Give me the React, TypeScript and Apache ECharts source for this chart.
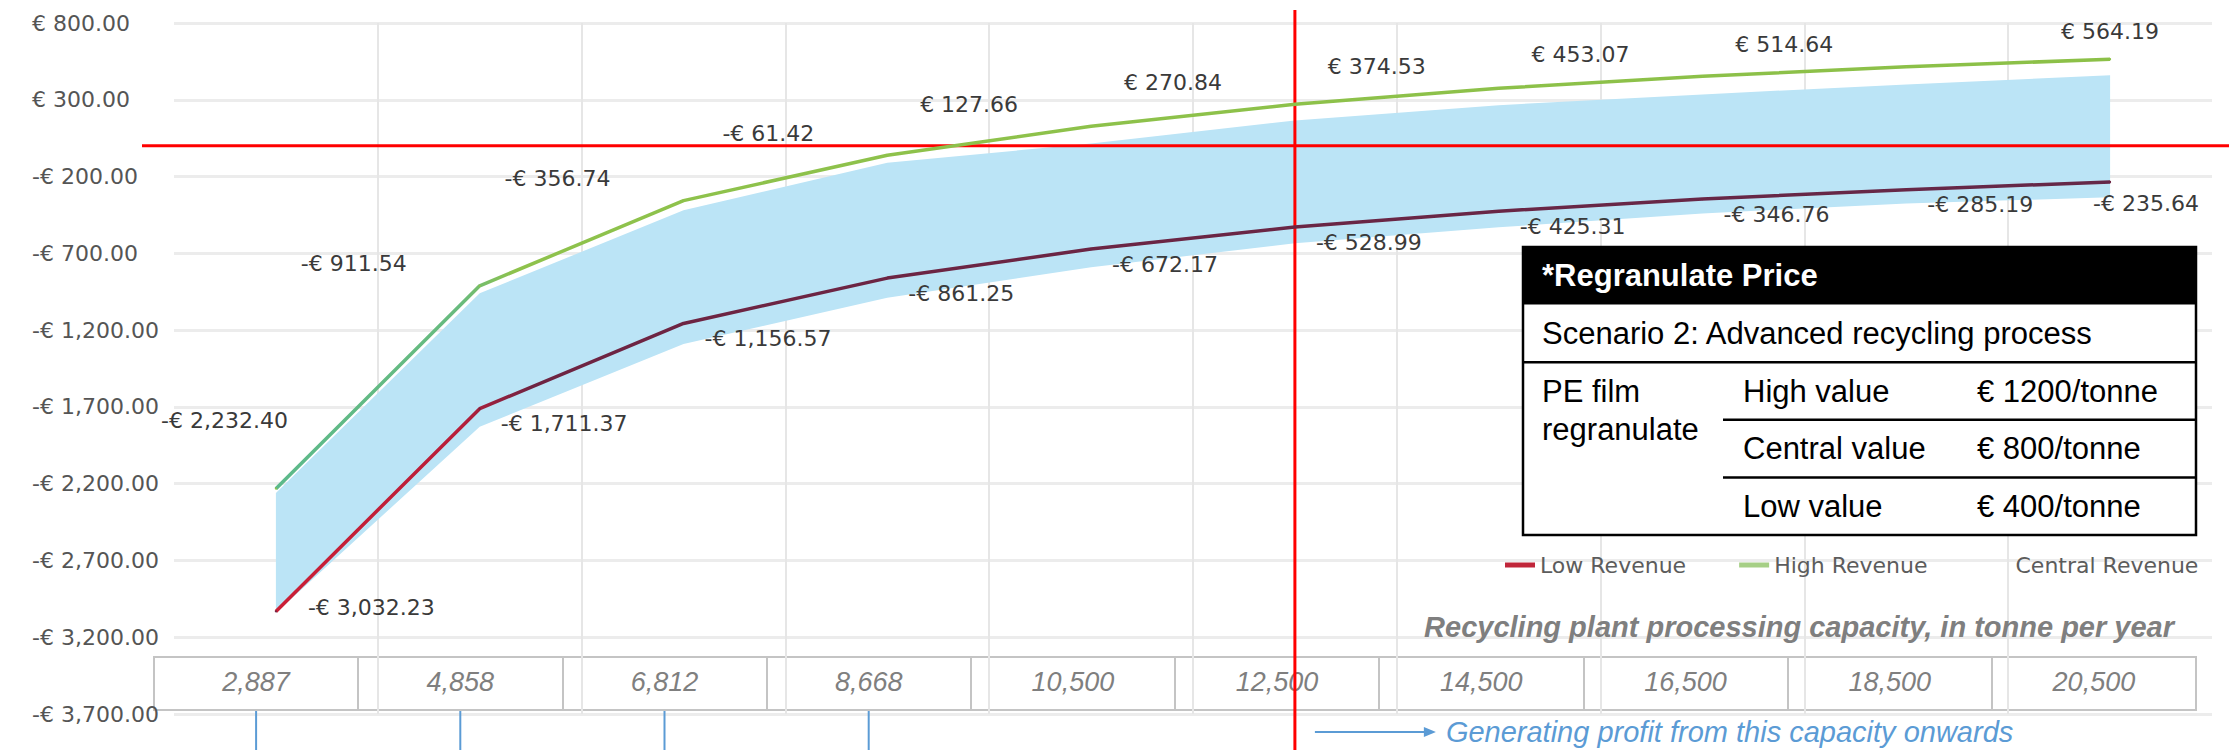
import React, { useEffect, useRef } from "react";
import * as echarts from "echarts";

// Recycling plant capacity (tonne per year)
const categories = ["2,887", "4,858", "6,812", "8,668", "10,500", "12,500", "14,500", "16,500", "18,500", "20,500"];

// Annual result per scenario (€)
const highRevenue = [-2232.4, -911.54, -356.74, -61.42, 127.66, 270.84, 374.53, 453.07, 514.64, 564.19];
const lowRevenue = [-3032.23, -1711.37, -1156.57, -861.25, -672.17, -528.99, -425.31, -346.76, -285.19, -235.64];

// Central revenue range (shaded band)
const centralUpper = [-2260, -960, -420, -110, 15, 165, 265, 335, 400, 460];
const centralLower = [-3040, -1830, -1290, -990, -790, -635, -530, -440, -375, -335];

// Value axis
const yMin = -3700;
const yMax = 800;
const yStep = 500;

// Annotations
const profitCapacity = "12,500";
const markedCapacities = ["2,887", "4,858", "6,812", "8,668"];
const priceProduct = ["PE film", "regranulate"];
const priceTiers = ["High value", "Central value", "Low value"];
const pricePerTonne = [1200, 800, 400];

const SANS = "'Liberation Sans', Arial, sans-serif";
const CHART_FONT = "'DejaVu Sans', Verdana, sans-serif";

function euro(v: number): string {
  const s = Math.abs(v).toLocaleString("en-US", { minimumFractionDigits: 2, maximumFractionDigits: 2 });
  return (v < 0 ? "-€ " : "€ ") + s;
}

function text(x: number, y: number, t: string, opts: any = {}) {
  const align = opts.align || "left";
  return {
    type: "text",
    z: opts.z ?? 30,
    style: {
      text: t,
      x,
      y,
      fill: opts.fill || "#000",
      fontSize: opts.fontSize || 31,
      fontFamily: opts.fontFamily || SANS,
      fontStyle: opts.fontStyle || "normal",
      fontWeight: opts.fontWeight || "normal",
      align,
      verticalAlign: "middle",
      textAlign: align,
      textVerticalAlign: "middle",
    },
  };
}

function line(x1: number, y1: number, x2: number, y2: number, stroke: string, lineWidth: number, z = 30) {
  return { type: "line", z, shape: { x1, y1, x2, y2 }, style: { stroke, lineWidth } };
}

export default function App() {
  const ref = useRef<HTMLDivElement>(null);

  useEffect(() => {
    if (!ref.current) return;
    const chart = echarts.init(ref.current, null, { renderer: "svg" });

    const highData = highRevenue.map((v, i) => {
      if (i === 0) return { value: v, label: { position: "left", distance: 0, offset: [13, -68] } };
      if (i === highRevenue.length - 1) return { value: v, label: { position: "top", distance: 16, offset: [0, 0] } };
      return v;
    });
    const lowData = lowRevenue.map((v, i) => {
      if (i === 0) return { value: v, label: { offset: [11, -4] } };
      if (i === lowRevenue.length - 1) return { value: v, label: { offset: [-38, 21] } };
      return v;
    });

    const labelStyle = {
      show: true,
      formatter: (p: any) => euro(p.value),
      fontFamily: CHART_FONT,
      fontSize: 22,
      color: "#3a3a3a",
    };

    chart.setOption({
      animation: false,
      textStyle: { fontFamily: CHART_FONT },
      grid: [
        { left: 174, right: 17, top: 23, bottom: 36 },
        {
          left: 154,
          right: 33,
          top: 657,
          bottom: 40,
          show: true,
          borderColor: "#c4c4c4",
          borderWidth: 2,
          backgroundColor: "transparent",
        },
      ],
      xAxis: [
        {
          gridIndex: 0,
          type: "category",
          data: categories,
          boundaryGap: true,
          axisLine: { show: false },
          axisTick: { show: false },
          axisLabel: { show: false },
          splitLine: { show: true, showMinLine: false, showMaxLine: false, lineStyle: { color: "#e6e6e6", width: 2 } },
        },
        {
          gridIndex: 1,
          type: "category",
          data: categories,
          boundaryGap: true,
          axisLine: { show: false },
          axisTick: { show: true, inside: true, length: 53, lineStyle: { color: "#c4c4c4", width: 2 } },
          axisLabel: {
            show: true,
            inside: true,
            margin: 28,
            verticalAlign: "middle",
            fontFamily: SANS,
            fontStyle: "italic",
            fontSize: 27,
            color: "#7f7f7f",
          },
          splitLine: { show: false },
        },
      ],
      yAxis: [
        {
          gridIndex: 0,
          type: "value",
          min: yMin,
          max: yMax,
          interval: yStep,
          axisLine: { show: false },
          axisTick: { show: false },
          axisLabel: {
            formatter: (v: number) => euro(v),
            align: "left",
            margin: 142,
            fontFamily: CHART_FONT,
            fontSize: 22,
            color: "#555555",
          },
          splitLine: { show: true, lineStyle: { color: "#ececec", width: 3 } },
        },
        { gridIndex: 1, type: "value", show: false },
      ],
      legend: {
        left: 1500,
        top: 549,
        icon: "rect",
        itemWidth: 30,
        itemHeight: 5,
        itemGap: 53,
        textStyle: { fontFamily: CHART_FONT, fontSize: 22, color: "#5c5c5c" },
        data: [
          { name: "Low Revenue", itemStyle: { color: "#c0263a" } },
          { name: "High Revenue", itemStyle: { color: "#a6cf86" } },
          { name: "Central Revenue", itemStyle: { color: "rgba(255,255,255,0)" } },
        ],
      },
      series: [
        {
          name: "Central base",
          type: "line",
          data: centralLower,
          stack: "central",
          stackStrategy: "all",
          symbol: "none",
          silent: true,
          lineStyle: { opacity: 0 },
          z: 1,
        },
        {
          name: "Central Revenue",
          type: "line",
          data: centralUpper.map((u, i) => u - centralLower[i]),
          stack: "central",
          stackStrategy: "all",
          symbol: "none",
          silent: true,
          lineStyle: { opacity: 0 },
          itemStyle: { color: "#bbe4f6" },
          areaStyle: { color: "#bbe4f6", opacity: 1 },
          z: 1,
        },
        {
          name: "Low Revenue",
          type: "line",
          data: lowData,
          symbol: "circle",
          symbolSize: 2,
          itemStyle: { color: "#6e2442" },
          lineStyle: {
            width: 3.5,
            color: {
              type: "linear",
              x: 0,
              y: 0,
              x2: 1,
              y2: 0,
              colorStops: [
                { offset: 0, color: "#cc1f36" },
                { offset: 0.1, color: "#b81e3a" },
                { offset: 0.14, color: "#6e2442" },
                { offset: 1, color: "#652848" },
              ],
            },
          },
          label: { ...labelStyle, position: "right", distance: 20, offset: [0, 15] },
          z: 4,
        },
        {
          name: "High Revenue",
          type: "line",
          data: highData,
          symbol: "circle",
          symbolSize: 2,
          itemStyle: { color: "#8ec24c" },
          lineStyle: {
            width: 3.5,
            color: {
              type: "linear",
              x: 0,
              y: 0,
              x2: 1,
              y2: 0,
              colorStops: [
                { offset: 0, color: "#5cb98b" },
                { offset: 0.1, color: "#68bb7e" },
                { offset: 0.13, color: "#8ec24c" },
                { offset: 1, color: "#8cc048" },
              ],
            },
          },
          label: { ...labelStyle, position: "left", distance: 72, offset: [0, -22] },
          z: 4,
        },
      ],
    });

    // Overlay annotations positioned from the axes
    const xProfit = chart.convertToPixel({ xAxisIndex: 0 }, profitCapacity) as number;
    const yZero = chart.convertToPixel({ yAxisIndex: 0 }, 0) as number;
    const W = 2229;
    const H = 750;

    const graphics: any[] = [];
    graphics.push(line(142, yZero, W, yZero, "#ff0000", 3, 3));
    graphics.push(line(xProfit, 10, xProfit, H, "#ff0000", 3, 3));

    markedCapacities.forEach((c) => {
      const x = chart.convertToPixel({ xAxisIndex: 1 }, c) as number;
      graphics.push(line(x, 711, x, H, "#5b9bd5", 2));
    });

    // Profit arrow and caption
    const ay = 732;
    graphics.push(line(xProfit + 20, ay, xProfit + 131, ay, "#5b9bd5", 2));
    graphics.push({
      type: "polygon",
      z: 30,
      shape: { points: [[xProfit + 129, ay - 5], [xProfit + 141, ay], [xProfit + 129, ay + 5]] },
      style: { fill: "#5b9bd5" },
    });
    graphics.push(
      text(xProfit + 151, ay, "Generating profit from this capacity onwards", {
        fill: "#5b9bd5",
        fontStyle: "italic",
        fontSize: 29,
      })
    );

    // Axis title
    graphics.push(
      text(2174, 627, "Recycling plant processing capacity, in tonne per year", {
        fill: "#7f7f7f",
        fontStyle: "italic",
        fontWeight: "bold",
        fontSize: 29,
        align: "right",
      })
    );

    // Regranulate price box
    const bx = 1523;
    const bw = 673;
    const by = 247;
    const rowH = 57.6;
    const c2 = 1723;
    graphics.push({
      type: "rect",
      z: 20,
      shape: { x: bx, y: by, width: bw, height: rowH * 5 },
      style: { fill: "#ffffff", stroke: "#000000", lineWidth: 2.5 },
    });
    graphics.push({
      type: "rect",
      z: 21,
      shape: { x: bx, y: by, width: bw, height: rowH },
      style: { fill: "#000000" },
    });
    graphics.push(line(bx, by + rowH * 2, bx + bw, by + rowH * 2, "#000", 2.5, 22));
    graphics.push(line(c2, by + rowH * 3, bx + bw, by + rowH * 3, "#000", 2.5, 22));
    graphics.push(line(c2, by + rowH * 4, bx + bw, by + rowH * 4, "#000", 2.5, 22));
    graphics.push(text(bx + 19, by + rowH * 0.5, "*Regranulate Price", { fill: "#ffffff", fontWeight: "bold" }));
    graphics.push(text(bx + 19, by + rowH * 1.5, "Scenario 2: Advanced recycling process"));
    graphics.push(text(bx + 19, by + rowH * 2.5, priceProduct[0]));
    graphics.push(text(bx + 19, by + rowH * 2.5 + 38, priceProduct[1]));
    priceTiers.forEach((t, i) => {
      graphics.push(text(c2 + 20, by + rowH * (2.5 + i), t));
      graphics.push(text(1977, by + rowH * (2.5 + i), "€ " + pricePerTonne[i] + "/tonne"));
    });

    chart.setOption({ graphic: graphics });

    return () => chart.dispose();
  }, []);

  return (
    <div
      ref={ref}
      style={{ position: "fixed", left: 0, top: 0, width: 2229, height: 750, background: "#ffffff" }}
    />
  );
}
